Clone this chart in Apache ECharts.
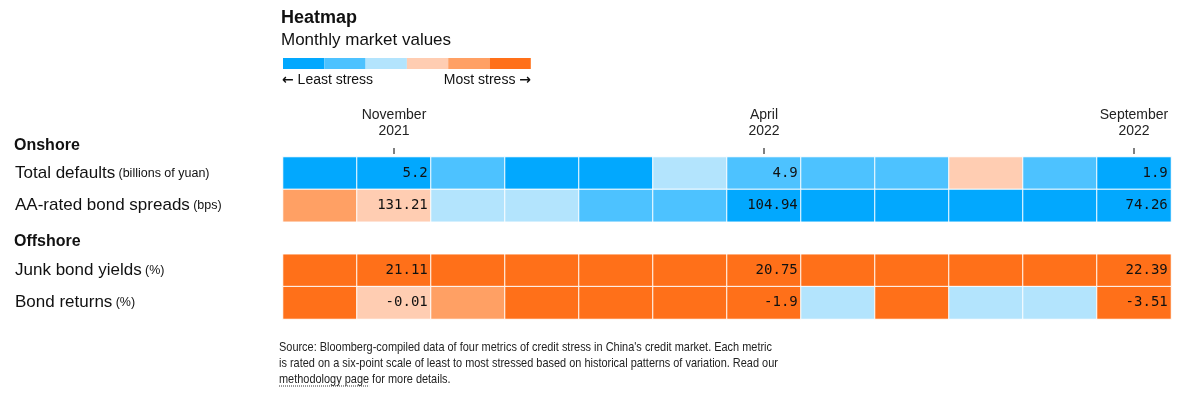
<!DOCTYPE html>
<html>
<head>
<meta charset="utf-8">
<script src="https://cdn.jsdelivr.net/npm/echarts@6/dist/echarts.min.js"></script>
<style>
  html, body { margin: 0; padding: 0; background: #fff; }
  #chart { width: 1184px; height: 396px; }
</style>
</head>
<body>
<div id="chart"></div>
<script>
// months shown as columns
const months = ['October 2021', 'November 2021', 'December 2021', 'January 2022', 'February 2022', 'March 2022',
  'April 2022', 'May 2022', 'June 2022', 'July 2022', 'August 2022', 'September 2022'];
const labelledMonths = [1, 6, 11];
// rows (empty one is the gap before Offshore)
const metrics = ['Total defaults', 'AA-rated bond spreads', '', 'Junk bond yields', 'Bond returns'];
const units = ['billions of yuan', 'bps', '', '%', '%'];
// stress level 0 (least) .. 5 (most)
const defaultsLevel = [0, 0, 1, 0, 0, 2, 1, 1, 1, 3, 1, 0];
const spreadsLevel = [4, 3, 2, 2, 1, 1, 0, 0, 0, 0, 0, 0];
const junkLevel = [5, 5, 5, 5, 5, 5, 5, 5, 5, 5, 5, 5];
const returnsLevel = [5, 3, 4, 5, 5, 5, 5, 2, 5, 2, 2, 5];
// values printed in the labelled months
const defaultsValues = [5.2, 4.9, 1.9];
const spreadsValues = [131.21, 104.94, 74.26];
const junkValues = [21.11, 20.75, 22.39];
const returnsValues = [-0.01, -1.9, -3.51];
const colors = ['#02a8fe', '#4dc2ff', '#b3e4fd', '#ffcdb2', '#ffa064', '#ff7019'];

const rows = [
  { y: 0, levels: defaultsLevel, values: defaultsValues },
  { y: 1, levels: spreadsLevel, values: spreadsValues },
  { y: 3, levels: junkLevel, values: junkValues },
  { y: 4, levels: returnsLevel, values: returnsValues }
];
let data = [];
rows.forEach(r => {
  r.levels.forEach((lv, i) => {
    let k = labelledMonths.indexOf(i);
    data.push([i, r.y, lv, k >= 0 ? r.values[k] : null]);
  });
});

const chart = echarts.init(document.getElementById('chart'));
const sans = "'Liberation Sans', Arial, sans-serif";
const showMonth = idx => labelledMonths.indexOf(idx) >= 0;

// footer text is set in a narrow face in the original, squeeze it to the same width
const footLines = [
  "Source: Bloomberg-compiled data of four metrics of credit stress in China's credit market. Each metric",
  'is rated on a six-point scale of least to most stressed based on historical patterns of variation. Read our',
  'methodology page for more details.'
];
const footFont = '13.5px ' + sans;
const ctx = document.createElement('canvas').getContext('2d');
ctx.font = footFont;
const footScale = 493 / ctx.measureText(footLines[0]).width;
const linkWidth = ctx.measureText('methodology page').width * footScale;

chart.setOption({
  animation: false,
  grid: { left: 283, right: 13, top: 157, height: 162 },
  xAxis: {
    type: 'category',
    position: 'top',
    offset: 3,
    data: months,
    axisLine: { show: false },
    axisTick: {
      show: true, alignWithLabel: true, length: 6,
      interval: showMonth,
      lineStyle: { color: '#808080', width: 2 }
    },
    axisLabel: {
      interval: showMonth,
      margin: 15,
      fontFamily: sans, fontSize: 14, lineHeight: 16, color: '#222',
      formatter: v => v.replace(' ', '\n')
    },
    splitLine: { show: false }
  },
  yAxis: {
    type: 'category',
    inverse: true,
    data: metrics,
    axisLine: { show: false },
    axisTick: { show: false },
    axisLabel: {
      align: 'left',
      margin: 268,
      formatter: (v, i) => v ? '{a|' + v + '} {b|(' + units[i] + ')}' : '',
      rich: {
        a: { fontFamily: sans, fontSize: 17, color: '#111' },
        b: { fontFamily: sans, fontSize: 12.5, color: '#111' }
      }
    }
  },
  visualMap: {
    type: 'piecewise',
    dimension: 2,
    orient: 'horizontal',
    left: 283, top: 58,
    padding: 0,
    itemWidth: 41.3, itemHeight: 11, itemGap: 0,
    itemSymbol: 'rect',
    showLabel: false,
    selectedMode: false,
    hoverLink: false,
    pieces: colors.map((c, i) => ({ value: i, color: c }))
  },
  series: [{
    type: 'heatmap',
    data: data,
    itemStyle: { borderColor: '#fff', borderWidth: 1 },
    emphasis: { disabled: true },
    label: {
      show: true,
      position: 'insideRight',
      distance: 4,
      fontFamily: "'DejaVu Sans Mono', monospace",
      fontSize: 14,
      color: '#111',
      formatter: p => p.value[3] == null ? '' : String(p.value[3])
    }
  }],
  graphic: [
    { type: 'text', x: 281, y: 18, style: { text: 'Heatmap', font: 'bold 18px ' + sans, fill: '#111', verticalAlign: 'middle' } },
    { type: 'text', x: 281, y: 40, style: { text: 'Monthly market values', font: '17px ' + sans, fill: '#111', verticalAlign: 'middle' } },
    {
      type: 'text', x: 282, y: 80,
      style: {
        text: '{r|\u2190} Least stress', font: '14px ' + sans, fill: '#111', verticalAlign: 'middle',
        rich: { r: { fontFamily: 'DejaVu Sans', fontSize: 14, fontWeight: 'bold', fill: '#111' } }
      }
    },
    {
      type: 'text', x: 531, y: 80,
      style: {
        text: 'Most stress {r|\u2192}', font: '14px ' + sans, fill: '#111', align: 'right', verticalAlign: 'middle',
        rich: { r: { fontFamily: 'DejaVu Sans', fontSize: 14, fontWeight: 'bold', fill: '#111' } }
      }
    },
    { type: 'text', x: 14, y: 146, style: { text: 'Onshore', font: 'bold 16px ' + sans, fill: '#111', verticalAlign: 'middle' } },
    { type: 'text', x: 14, y: 242, style: { text: 'Offshore', font: 'bold 16px ' + sans, fill: '#111', verticalAlign: 'middle' } },
    {
      type: 'text', x: 279, y: 339, scaleX: footScale,
      style: { text: footLines.join('\n'), font: footFont, fill: '#222', lineHeight: 16 }
    },
    {
      type: 'line', shape: { x1: 279, y1: 386, x2: 279 + linkWidth, y2: 386 },
      style: { stroke: '#333', lineWidth: 1, lineDash: [1, 1] }
    }
  ]
});
</script>
</body>
</html>
